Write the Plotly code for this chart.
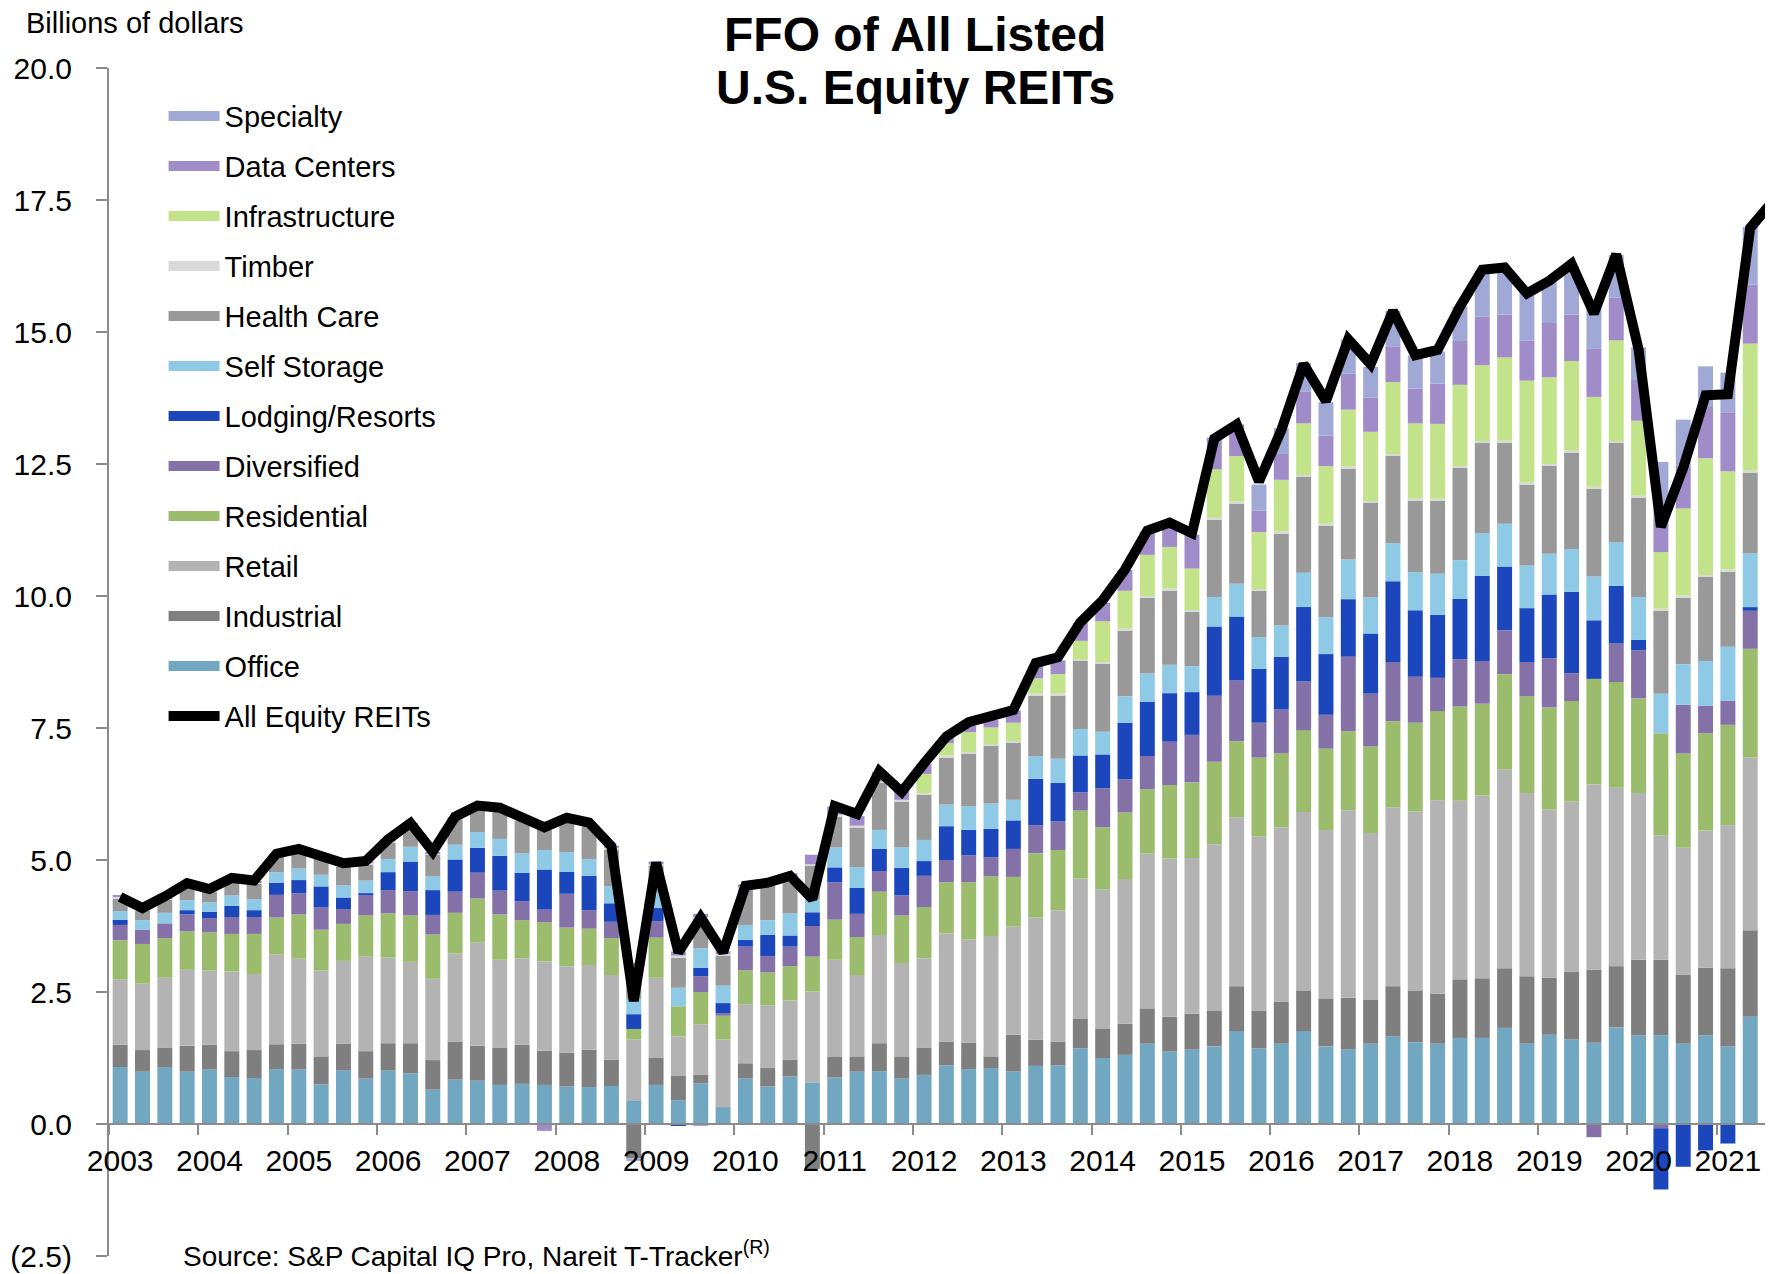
import plotly.graph_objects as go

# ---------------- data (billions of dollars, quarterly 2003Q1 .. 2021Q3) ----------------
years = ["2003", "2004", "2005", "2006", "2007", "2008", "2009", "2010", "2011", "2012",
         "2013", "2014", "2015", "2016", "2017", "2018", "2019", "2020", "2021"]

office = [1.08, 0.99, 1.08, 0.99, 1.03, 0.89, 0.87, 1.04, 1.03, 0.75, 1.02, 0.86, 1.01, 0.96, 0.65, 0.84,
          0.82, 0.74, 0.76, 0.74, 0.71, 0.70, 0.72, 0.45, 0.74, 0.45, 0.77, 0.32, 0.86, 0.71, 0.90, 0.79,
          0.88, 0.99, 1.00, 0.86, 0.93, 1.11, 1.04, 1.06, 1.00, 1.10, 1.11, 1.43, 1.25, 1.31, 1.52, 1.37,
          1.41, 1.47, 1.76, 1.43, 1.52, 1.76, 1.47, 1.41, 1.52, 1.66, 1.55, 1.52, 1.63, 1.63,
          1.82, 1.52, 1.69, 1.60, 1.54, 1.83, 1.68, 1.68, 1.52, 1.68, 1.47, 2.03, 1.86]

industrial = [0.42, 0.41, 0.37, 0.49, 0.47, 0.49, 0.53, 0.47, 0.49, 0.53, 0.50, 0.52, 0.52, 0.57, 0.56, 0.72,
              0.66, 0.71, 0.74, 0.65, 0.64, 0.71, 0.50, -0.65, 0.52, 0.46, 0.16, 0.00, 0.29, 0.35, 0.32, -0.85,
              0.39, 0.28, 0.53, 0.42, 0.52, 0.45, 0.50, 0.22, 0.69, 0.50, 0.45, 0.56, 0.55, 0.59, 0.67, 0.66,
              0.68, 0.67, 0.85, 0.72, 0.80, 0.77, 0.91, 0.98, 0.84, 0.95, 0.98, 0.95, 1.11, 1.13,
              1.13, 1.28, 1.08, 1.29, 1.38, 1.16, 1.43, 1.43, 1.31, 1.28, 1.48, 1.64, 1.72]

retail = [1.24, 1.26, 1.32, 1.44, 1.41, 1.51, 1.44, 1.70, 1.61, 1.63, 1.57, 1.79, 1.62, 1.54, 1.54, 1.67,
          1.96, 1.66, 1.64, 1.69, 1.64, 1.60, 1.60, 1.15, 1.51, 0.75, 0.96, 1.28, 1.12, 1.19, 1.12, 1.72,
          1.84, 1.55, 2.05, 1.77, 1.69, 2.05, 1.96, 2.28, 2.05, 2.31, 2.49, 2.66, 2.64, 2.74, 2.94, 3.00,
          2.95, 3.16, 3.20, 3.30, 3.30, 3.38, 3.19, 3.55, 3.15, 3.39, 3.39, 3.66, 3.38, 3.46,
          3.77, 3.47, 3.19, 3.22, 3.51, 3.38, 3.16, 2.36, 2.40, 2.60, 2.71, 3.27, 3.20]

residential = [0.74, 0.75, 0.75, 0.73, 0.72, 0.71, 0.76, 0.70, 0.84, 0.77, 0.70, 0.78, 0.84, 0.88, 0.84, 0.77,
               0.83, 0.86, 0.72, 0.74, 0.73, 0.69, 0.70, 0.20, 0.76, 0.57, 0.61, 0.45, 0.64, 0.62, 0.65, 0.66,
               0.76, 0.72, 0.82, 0.90, 0.97, 0.97, 1.08, 1.13, 0.94, 1.22, 1.14, 1.29, 1.18, 1.26, 1.21, 1.39,
               1.43, 1.56, 1.44, 1.49, 1.40, 1.55, 1.54, 1.50, 1.64, 1.63, 1.68, 1.69, 1.79, 1.74,
               1.80, 1.83, 1.93, 1.90, 2.00, 2.00, 1.79, 1.93, 1.79, 1.84, 1.90, 2.06, 2.20]

diversified = [0.29, 0.27, 0.28, 0.32, 0.27, 0.32, 0.32, 0.43, 0.40, 0.42, 0.28, 0.39, 0.44, 0.46, 0.37, 0.40,
               0.49, 0.45, 0.36, 0.24, 0.64, 0.35, 0.31, 0.00, 0.31, 0.00, 0.30, 0.05, 0.45, 0.31, 0.37, 0.58,
               0.71, 0.44, 0.39, 0.38, 0.59, 0.42, 0.51, 0.36, 0.53, 0.53, 0.54, 0.34, 0.74, 0.63, 0.63, 0.82,
               0.90, 1.25, 1.15, 0.66, 0.83, 0.92, 0.64, 1.41, 1.00, 1.12, 0.87, 0.63, 0.89, 0.81,
               0.83, 0.65, 0.93, 0.53, -0.25, 0.73, 0.91, -0.08, 0.92, 0.52, 0.46, 0.72, 0.87]

lodging = [0.10, 0.00, 0.00, 0.08, 0.12, 0.21, 0.13, 0.23, 0.25, 0.40, 0.22, 0.03, 0.34, 0.56, 0.47, 0.61,
           0.47, 0.66, 0.54, 0.76, 0.42, 0.65, 0.35, 0.28, 0.25, -0.03, 0.16, 0.19, 0.13, 0.40, 0.21, 0.26,
           0.28, 0.49, 0.42, 0.52, 0.28, 0.64, 0.48, 0.54, 0.54, 0.88, 0.73, 0.70, 0.64, 1.07, 1.03, 0.92,
           0.81, 1.31, 1.21, 1.02, 1.00, 1.41, 1.15, 1.09, 1.14, 1.53, 1.26, 1.19, 1.15, 1.61,
           1.21, 1.02, 1.21, 1.54, 1.11, 1.09, 0.20, -1.16, -0.81, -0.50, -0.37, 0.07, 0.41]

self_storage = [0.16, 0.18, 0.20, 0.19, 0.18, 0.20, 0.21, 0.20, 0.22, 0.22, 0.23, 0.24, 0.25, 0.28, 0.26, 0.28,
                0.30, 0.32, 0.37, 0.37, 0.37, 0.32, 0.32, 0.28, 0.29, 0.35, 0.37, 0.33, 0.28, 0.28, 0.42, 0.24,
                0.38, 0.39, 0.36, 0.39, 0.40, 0.41, 0.45, 0.48, 0.39, 0.43, 0.46, 0.50, 0.43, 0.50, 0.53, 0.54,
                0.49, 0.56, 0.62, 0.60, 0.59, 0.65, 0.70, 0.75, 0.68, 0.72, 0.72, 0.78, 0.73, 0.81,
                0.81, 0.81, 0.77, 0.81, 0.83, 0.83, 0.81, 0.75, 0.77, 0.85, 1.02, 1.02, 1.21]

health_care = [0.24, 0.18, 0.25, 0.26, 0.20, 0.27, 0.29, 0.29, 0.31, 0.30, 0.36, 0.31, 0.31, 0.39, 0.41, 0.47,
               0.44, 0.53, 0.61, 0.52, 0.59, 0.63, 0.70, 0.61, 0.51, 0.58, 0.56, 0.57, 0.68, 0.65, 0.65, 0.64,
               0.59, 0.76, 0.89, 0.87, 0.86, 0.90, 0.99, 1.09, 1.08, 1.15, 1.20, 1.29, 1.29, 1.25, 1.44, 1.41,
               1.03, 1.47, 1.53, 0.88, 1.75, 1.82, 1.74, 1.73, 1.80, 1.66, 1.36, 1.39, 1.75, 1.71,
               1.54, 1.54, 1.67, 1.83, 1.67, 1.88, 1.89, 1.58, 1.27, 1.60, 1.43, 1.53, 1.59]

timber = [0.03, 0.03, 0.03, 0.03, 0.03, 0.03, 0.03, 0.03, 0.03, 0.03, 0.03, 0.03, 0.03, 0.03, 0.03, 0.03,
          0.03, 0.03, 0.03, 0.03, 0.03, 0.03, 0.03, 0.03, 0.03, 0.03, 0.03, 0.03, 0.03, 0.03, 0.03, 0.03,
          0.03, 0.03, 0.03, 0.03, 0.03, 0.03, 0.03, 0.03, 0.03, 0.03, 0.03, 0.03, 0.03, 0.03, 0.03, 0.03,
          0.03, 0.03, 0.03, 0.03, 0.03, 0.03, 0.03, 0.03, 0.03, 0.03, 0.03, 0.03, 0.03, 0.03,
          0.03, 0.03, 0.03, 0.03, 0.03, 0.03, 0.03, 0.03, 0.03, 0.03, 0.03, 0.03, 0.03]

infrastructure = [0.00, 0.00, 0.00, 0.00, 0.00, 0.00, 0.00, 0.00, 0.00, 0.00, 0.00, 0.00, 0.00, 0.00, 0.00, 0.00,
                  0.00, 0.00, 0.00, 0.00, 0.00, 0.00, 0.00, 0.00, 0.00, 0.00, 0.00, 0.00, 0.00, 0.00, 0.00, 0.00,
                  0.00, 0.00, 0.00, 0.00, 0.36, 0.23, 0.38, 0.32, 0.35, 0.29, 0.37, 0.35, 0.77, 0.72, 0.78, 0.79,
                  0.79, 0.92, 0.86, 1.08, 0.98, 0.98, 1.09, 1.08, 1.31, 1.36, 1.43, 1.42, 1.54, 1.44,
                  1.58, 1.93, 1.64, 1.70, 1.70, 1.91, 1.42, 1.07, 1.65, 2.21, 1.86, 2.41, 2.40]

data_centers = [0.02, 0.02, 0.02, 0.02, 0.02, 0.02, 0.02, 0.02, 0.02, 0.02, 0.02, 0.02, 0.02, 0.02, 0.02, 0.02,
                0.02, 0.02, 0.02, -0.13, 0.02, 0.02, 0.04, 0.05, 0.05, 0.08, 0.06, 0.05, 0.06, 0.06, 0.08, 0.18,
                0.15, 0.18, 0.18, 0.19, 0.19, 0.12, 0.12, 0.14, 0.23, 0.23, 0.26, 0.34, 0.35, 0.39, 0.44, 0.45,
                0.64, 0.60, 0.60, 0.41, 0.49, 0.60, 0.58, 0.68, 0.65, 0.68, 0.66, 0.76, 0.83, 0.92,
                0.81, 0.76, 1.03, 0.88, 0.91, 0.81, 0.77, 0.65, 0.81, 0.97, 1.12, 1.12, 1.06]

specialty = [0.00, 0.00, 0.00, 0.00, 0.00, 0.00, 0.00, 0.00, 0.00, 0.00, 0.00, 0.00, 0.00, 0.00, 0.00, 0.00,
             0.00, 0.00, 0.00, 0.00, 0.00, 0.00, 0.00, -0.05, 0.00, 0.00, -0.04, 0.00, 0.00, 0.00, 0.00, 0.00,
             0.00, 0.00, 0.00, 0.00, 0.00, 0.00, 0.00, 0.00, 0.00, 0.00, 0.00, 0.00, 0.00, 0.00, 0.00, 0.00,
             0.00, 0.00, 0.00, 0.49, 0.49, 0.54, 0.63, 0.65, 0.58, 0.67, 0.62, 0.61, 0.65, 0.87,
             0.87, 0.93, 0.77, 0.91, 0.85, 0.81, 0.62, 1.06, 0.87, 0.77, 0.75, 1.09, 0.92]

all_equity_reits = [4.30, 4.09, 4.31, 4.56, 4.45, 4.66, 4.61, 5.12, 5.21, 5.08, 4.94, 4.98, 5.39, 5.70, 5.16, 5.82,
                    6.03, 5.99, 5.80, 5.62, 5.80, 5.71, 5.26, 2.33, 4.95, 3.25, 3.91, 3.25, 4.51, 4.57, 4.70, 4.26,
                    6.02, 5.87, 6.68, 6.29, 6.83, 7.34, 7.61, 7.72, 7.84, 8.73, 8.84, 9.50, 9.92, 10.50, 11.24, 11.39,
                    11.19, 12.98, 13.25, 12.17, 13.14, 14.39, 13.69, 14.86, 14.39, 15.40, 14.56, 14.66, 15.48, 16.18,
                    16.22, 15.73, 15.97, 16.29, 15.35, 16.47, 14.67, 11.31, 12.43, 13.80, 13.82, 16.97, 17.47]

y_tick_values = [-2.5, 0.0, 2.5, 5.0, 7.5, 10.0, 12.5, 15.0, 17.5, 20.0]
y_tick_labels = ["(2.5)", "0.0", "2.5", "5.0", "7.5", "10.0", "12.5", "15.0", "17.5", "20.0"]

# ---------------- figure ----------------
FONT = "Liberation Sans, Arial, sans-serif"
AXIS_GRAY = "#8c8c8c"

n = len(office)
xpos = list(range(n))
year_pos = [4 * i for i in range(len(years))]
year_bounds = [4 * i - 0.5 for i in range(len(years))]

stack = [
    ("Office", office, "#71A7C1"),
    ("Industrial", industrial, "#7F7F7F"),
    ("Retail", retail, "#B3B3B3"),
    ("Residential", residential, "#9BBB6D"),
    ("Diversified", diversified, "#8471A8"),
    ("Lodging/Resorts", lodging, "#1C47BC"),
    ("Self Storage", self_storage, "#8EC9E6"),
    ("Health Care", health_care, "#999999"),
    ("Timber", timber, "#D9D9D9"),
    ("Infrastructure", infrastructure, "#C2E389"),
    ("Data Centers", data_centers, "#A08CC8"),
    ("Specialty", specialty, "#A0A8D6"),
]

fig = go.Figure()
for name, vals, color in stack:
    fig.add_trace(go.Bar(x=xpos, y=vals, name=name, marker=dict(color=color, line=dict(width=0)),
                         showlegend=False))

# legend entries (wide swatches), top item = Specialty
for name, vals, color in reversed(stack):
    fig.add_trace(go.Scatter(x=[None], y=[None], mode="lines", name=name, legendgroup=name,
                             line=dict(color=color, width=15), showlegend=True, hoverinfo="skip"))

fig.add_trace(go.Scatter(x=xpos, y=all_equity_reits, mode="lines", name="All Equity REITs",
                         legendgroup="all", line=dict(color="black", width=10)))

# the page body adds an 8 px offset; margins compensate so the plot area sits at (109, 68)-(1773, 1256)
fig.update_layout(
    width=1773, height=1274,
    margin=dict(l=101, r=8, t=60, b=26),
    paper_bgcolor="white", plot_bgcolor="white",
    barmode="relative", bargap=0.33,
    font=dict(family=FONT, color="black", size=28),
    showlegend=True,
    legend=dict(x=0.0328, y=0.981, xanchor="left", yanchor="top", bgcolor="rgba(0,0,0,0)",
                font=dict(family=FONT, size=29, color="black"), itemwidth=51,
                tracegroupgap=9.3, traceorder="grouped"),
    xaxis=dict(range=[-0.5, 74.02], tickmode="array", tickvals=year_pos, ticktext=years,
               ticks="", showline=True, linecolor=AXIS_GRAY, linewidth=2,
               anchor="free", position=2.5 / 22.5, showgrid=False, zeroline=False, automargin=False,
               tickfont=dict(family=FONT, size=30, color="black"), ticklabelstandoff=10,
               minor=dict(tickmode="array", tickvals=year_bounds, ticks="outside", ticklen=10,
                          tickwidth=2, tickcolor=AXIS_GRAY, showgrid=False)),
    yaxis=dict(range=[-2.5, 20], tickmode="array", tickvals=y_tick_values, ticktext=y_tick_labels,
               ticks="outside", ticklen=11, tickwidth=2, tickcolor=AXIS_GRAY, automargin=False,
               showline=True, linecolor=AXIS_GRAY, linewidth=2, showgrid=False, zeroline=False,
               tickfont=dict(family=FONT, size=30, color="black"), ticklabelstandoff=18),
)

fig.add_annotation(text="<b>FFO of All Listed</b>", xref="paper", yref="paper",
                   x=(915 - 109) / 1664, y=1 + (68 - 34) / 1188, xanchor="center", yanchor="middle",
                   showarrow=False, font=dict(family=FONT, size=48, color="black"))
fig.add_annotation(text="<b>U.S. Equity REITs</b>", xref="paper", yref="paper",
                   x=(915 - 109) / 1664, y=1 - (87 - 68) / 1188, xanchor="center", yanchor="middle",
                   showarrow=False, font=dict(family=FONT, size=48, color="black"))
fig.add_annotation(text="Billions of dollars", xref="paper", yref="paper",
                   x=(24 - 109) / 1664, y=1 + (68 - 23) / 1188, xanchor="left", yanchor="middle",
                   showarrow=False, font=dict(family=FONT, size=29, color="black"))
fig.add_annotation(text="Source: S&P Capital IQ Pro, Nareit T-Tracker<sup>(R)</sup>", xref="paper", yref="paper",
                   x=(181 - 109) / 1664, y=(1256 - 1254) / 1188, xanchor="left", yanchor="middle",
                   showarrow=False, font=dict(family=FONT, size=28, color="black"))

fig.write_html("out.html")
